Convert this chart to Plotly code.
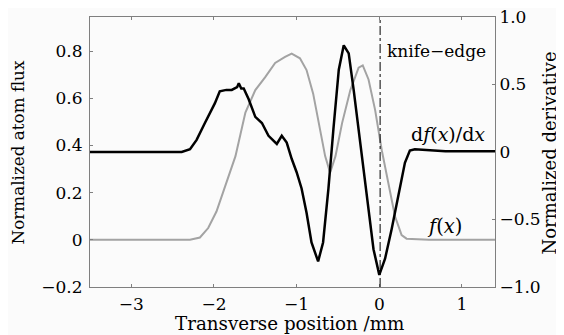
import plotly.graph_objects as go

# f(x): normalized atom flux (left axis)
f_x = [-3.5, -2.6, -2.29, -2.17, -2.07, -1.97, -1.89, -1.805, -1.74, -1.62, -1.50, -1.38, -1.26,
       -1.14, -1.06, -0.96, -0.88, -0.80, -0.72, -0.655, -0.595, -0.53, -0.45, -0.35, -0.25,
       -0.20, -0.13, -0.05, 0.03, 0.11, 0.19, 0.27, 0.33, 0.6, 1.4]
f_y = [0.0, 0.0, 0.0, 0.01, 0.05, 0.12, 0.20, 0.285, 0.355, 0.54, 0.635, 0.69, 0.75,
       0.776, 0.79, 0.77, 0.72, 0.62, 0.48, 0.355, 0.285, 0.355, 0.495, 0.635, 0.73,
       0.74, 0.68, 0.55, 0.38, 0.24, 0.10, 0.02, 0.005, 0.0, 0.0]

# df(x)/dx: normalized derivative (right axis)
d_x = [-3.5, -3.0, -2.6, -2.39, -2.29, -2.21, -2.11, -2.05, -1.99, -1.93, -1.85, -1.785, -1.72,
       -1.70, -1.67, -1.64, -1.58, -1.50, -1.42, -1.34, -1.24, -1.18, -1.12, -1.06, -1.0,
       -0.94, -0.88, -0.82, -0.74, -0.68, -0.615, -0.555, -0.49, -0.43, -0.37, -0.31,
       -0.27, -0.25, -0.19, -0.13, -0.07, 0.0, 0.07, 0.15, 0.23, 0.31, 0.37, 0.43, 0.8, 1.4]
d_y = [0.0, 0.0, 0.0, 0.0, 0.02, 0.09, 0.215, 0.29, 0.36, 0.45, 0.46, 0.46, 0.48,
       0.51, 0.47, 0.47, 0.39, 0.26, 0.215, 0.12, 0.06, 0.12, 0.07, -0.05, -0.15,
       -0.27, -0.45, -0.67, -0.81, -0.67, -0.27, 0.17, 0.61, 0.79, 0.73, 0.46,
       0.26, 0.19, -0.10, -0.42, -0.72, -0.91, -0.79, -0.57, -0.32, -0.08, 0.01, 0.02, 0.005, 0.005]

x_ticks = [-3, -2, -1, 0, 1]
x_ticktext = ["\u22123", "\u22122", "\u22121", "0", "1"]
yl_ticks = [-0.2, 0, 0.2, 0.4, 0.6, 0.8]
yl_ticktext = ["\u22120.2", "0", "0.2", "0.4", "0.6", "0.8"]
yr_ticks = [-1.0, -0.5, 0, 0.5, 1.0]
yr_ticktext = ["\u22121.0", "\u22120.5", "0", "0.5", "1.0"]
knife_x = 0.01

FONT = "DejaVu Serif"
AX = "#7f7f7f"
BG = "#fbfbfb"

fig = go.Figure()
fig.add_trace(go.Scatter(x=f_x, y=f_y, mode="lines", line=dict(color="#a3a3a3", width=2),
                         yaxis="y", showlegend=False))
fig.add_trace(go.Scatter(x=d_x, y=d_y, mode="lines", line=dict(color="black", width=2.5),
                         yaxis="y2", showlegend=False))

fig.add_shape(type="line", x0=knife_x, x1=knife_x, xref="x", y0=0, y1=1, yref="paper",
              line=dict(color="black", width=1, dash="dashdot"))

fig.add_annotation(x=0.07, y=0.745, xref="x", yref="y2", text="knife\u2212edge", showarrow=False,
                   xanchor="left", yanchor="middle", font=dict(family=FONT, size=17, color="black"))
fig.add_annotation(x=0.36, y=0.13, xref="x", yref="y2",
                   text="d<i>f</i>(<i>x</i>)/d<i>x</i>", showarrow=False,
                   xanchor="left", yanchor="middle", font=dict(family=FONT, size=19, color="black"))
fig.add_annotation(x=0.79, y=-0.55, xref="x", yref="y2", text="<i>f</i>(<i>x</i>)", showarrow=False,
                   xanchor="center", yanchor="middle", font=dict(family=FONT, size=19.5, color="black"))

# axis titles
fig.add_annotation(x=0, y=0.5, xref="paper", yref="paper", text="Normalized atom flux",
                   showarrow=False, textangle=-90, xanchor="center", xshift=-72.5, yshift=-1,
                   font=dict(family=FONT, size=16.8, color="black"))
fig.add_annotation(x=0.5, y=0, xref="paper", yref="paper", text="Transverse position /mm",
                   showarrow=False, yanchor="middle", yshift=-36, xshift=-3,
                   font=dict(family=FONT, size=18.3, color="black"))
fig.add_annotation(x=1, y=0.5, xref="paper", yref="paper", text="Normalized derivative",
                   showarrow=False, textangle=-90, xanchor="center", xshift=53.5, yshift=-1,
                   font=dict(family=FONT, size=18, color="black"))

fig.update_layout(
    width=556, height=327,
    margin=dict(l=82, r=68.5, t=9, b=48, autoexpand=False),
    paper_bgcolor=BG, plot_bgcolor=BG,
    font=dict(family=FONT, size=17, color="black"),
    xaxis=dict(range=[-3.5, 1.4], tickvals=x_ticks, ticktext=x_ticktext, automargin=False,
               showline=True, linecolor=AX, linewidth=1, mirror="ticks",
               ticks="inside", ticklen=3, tickcolor=AX, showgrid=False, zeroline=False,
               tickfont=dict(size=17), ticklabelstandoff=2, ticklabeloverflow="allow"),
    yaxis=dict(range=[-0.2, 0.945], tickvals=yl_ticks, ticktext=yl_ticktext, automargin=False,
               showline=True, linecolor=AX, linewidth=1,
               ticks="inside", ticklen=3, tickcolor=AX, showgrid=False, zeroline=False,
               tickfont=dict(size=17), ticklabelstandoff=3, ticklabeloverflow="allow"),
    yaxis2=dict(range=[-1.0, 1.0], tickvals=yr_ticks, ticktext=yr_ticktext, automargin=False,
                overlaying="y", side="right",
                showline=True, linecolor=AX, linewidth=1,
                ticks="inside", ticklen=3, tickcolor=AX, showgrid=False, zeroline=False,
                tickfont=dict(size=17), ticklabeloverflow="allow"),
)

fig.write_html("out.html")
